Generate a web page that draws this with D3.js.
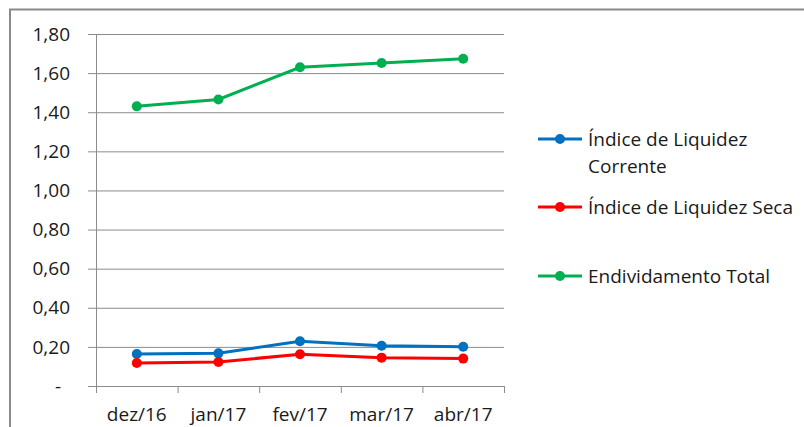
<!DOCTYPE html>
<html>
<head>
<meta charset="utf-8">
<script src="https://cdn.jsdelivr.net/npm/d3@7"></script>
<style>
	body { margin: 0; background: #fff; }
	svg { display: block; font-family: "Open Sans", "Liberation Sans", sans-serif; }
</style>
</head>
<body>
<svg id="chart" width="804" height="427"></svg>
<script>
const categories = ['dez/16', 'jan/17', 'fev/17', 'mar/17', 'abr/17'];
const liquidezCorrente = [0.164, 0.167, 0.229, 0.206, 0.201];
const liquidezSeca = [0.118, 0.123, 0.162, 0.145, 0.140];
const endividamento = [1.43, 1.465, 1.63, 1.652, 1.673];
const yTicks = [0, 0.2, 0.4, 0.6, 0.8, 1.0, 1.2, 1.4, 1.6, 1.8];

const series = [
	{ name: ['Índice de Liquidez', 'Corrente'], values: liquidezCorrente, color: '#0070c0' },
	{ name: ['Índice de Liquidez Seca'], values: liquidezSeca, color: '#ff0000' },
	{ name: ['Endividamento Total'], values: endividamento, color: '#00b050' }
];

const svg = d3.select('#chart');
const plotLeft = 96, plotRight = 504, plotTop = 34, plotBottom = 386;
const fontSize = '19px';

// outer frame (only top and left visible)
svg.append('path')
	.attr('d', 'M10,427 V9.5 H804')
	.attr('fill', 'none')
	.attr('stroke', '#8a8a8a')
	.attr('stroke-width', 2);

const x = d3.scaleBand().domain(categories).range([plotLeft, plotRight]);
const y = d3.scaleLinear().domain([0, 1.8]).range([plotBottom, plotTop]);

const fmt = v => v === 0 ? '-' : d3.format('.2f')(v).replace('.', ',');

// gridlines
svg.append('g')
	.selectAll('line')
	.data(yTicks)
	.enter().append('line')
		.attr('x1', plotLeft - 8)
		.attr('x2', plotRight)
		.attr('y1', d => y(d) + 0.5)
		.attr('y2', d => y(d) + 0.5)
		.attr('stroke', '#8c8c8c')
		.attr('stroke-width', 1);

// y axis line
svg.append('line')
	.attr('x1', plotLeft + 0.5).attr('x2', plotLeft + 0.5)
	.attr('y1', plotTop).attr('y2', plotBottom)
	.attr('stroke', '#8c8c8c');

// x ticks
const xTickPos = categories.map(c => x(c)).concat([plotRight]);
svg.append('g')
	.selectAll('line')
	.data(xTickPos)
	.enter().append('line')
		.attr('x1', d => d + 0.5).attr('x2', d => d + 0.5)
		.attr('y1', plotBottom).attr('y2', plotBottom + 7)
		.attr('stroke', '#8c8c8c');

// y labels
svg.append('g')
	.selectAll('text')
	.data(yTicks)
	.enter().append('text')
		.attr('x', d => d === 0 ? 58 : 70)
		.attr('y', d => y(d))
		.attr('dy', '0.35em')
		.attr('text-anchor', d => d === 0 ? 'middle' : 'end')
		.attr('font-size', fontSize)
		.attr('fill', '#1a1a1a')
		.text(fmt);

// x labels
svg.append('g')
	.selectAll('text')
	.data(categories)
	.enter().append('text')
		.attr('x', d => x(d) + x.bandwidth() / 2)
		.attr('y', 421)
		.attr('text-anchor', 'middle')
		.attr('font-size', fontSize)
		.attr('fill', '#1a1a1a')
		.text(d => d);

const line = d3.line()
	.x((d, i) => x(categories[i]) + x.bandwidth() / 2)
	.y(d => y(d));

series.forEach(s => {
	const g = svg.append('g');
	g.append('path')
		.attr('d', line(s.values))
		.attr('fill', 'none')
		.attr('stroke', s.color)
		.attr('stroke-width', 3);
	g.selectAll('circle')
		.data(s.values)
		.enter().append('circle')
			.attr('cx', (d, i) => x(categories[i]) + x.bandwidth() / 2)
			.attr('cy', d => y(d))
			.attr('r', 5)
			.attr('fill', s.color);
});

// legend
const legendY = [139, 207, 276];
series.forEach((s, i) => {
	const g = svg.append('g').attr('transform', 'translate(0,' + legendY[i] + ')');
	g.append('line')
		.attr('x1', 538).attr('x2', 582)
		.attr('y1', 0).attr('y2', 0)
		.attr('stroke', s.color)
		.attr('stroke-width', 3);
	g.append('circle')
		.attr('cx', 560).attr('cy', 0).attr('r', 5)
		.attr('fill', s.color);
	s.name.forEach((t, j) => {
		g.append('text')
			.attr('x', 588)
			.attr('y', j * 27.5)
			.attr('dy', '0.35em')
			.attr('font-size', fontSize)
			.attr('fill', '#1a1a1a')
			.text(t);
	});
});
</script>
</body>
</html>
